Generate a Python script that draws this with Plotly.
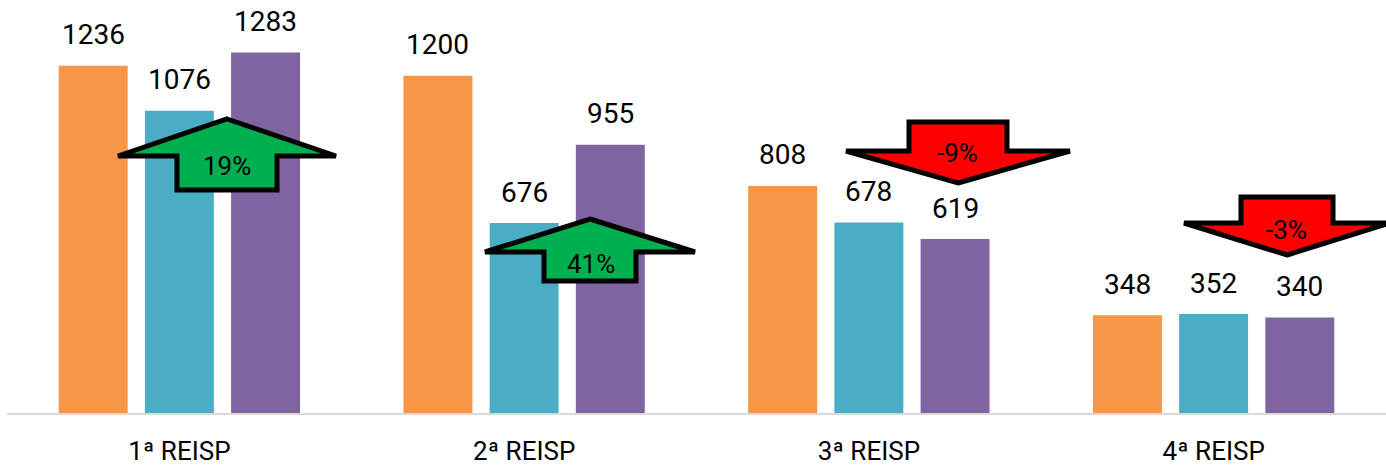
import plotly.graph_objects as go

categories = ["1ª REISP", "2ª REISP", "3ª REISP", "4ª REISP"]
series_a = [1236, 1200, 808, 348]   # orange
series_b = [1076, 676, 678, 352]    # teal
series_c = [1283, 955, 619, 340]    # purple
colors = ["#F79646", "#4BACC6", "#8064A2"]

W, H = 1386, 467
ML, MR, MT, MB = 7, 0, 0, 54
PW, PH = W - ML - MR, H - MT - MB
BARGAP, BARGROUPGAP = 0.25, 0.2
FONT = "Roboto"

fig = go.Figure()
for vals, col in zip([series_a, series_b, series_c], colors):
    fig.add_trace(go.Bar(x=categories, y=vals, marker=dict(color=col, line=dict(width=0)),
                         hoverinfo="x+y", showlegend=False))

# value labels above bars
catw = PW / len(categories)
slot = (1 - BARGAP) * catw / 3
annotations = []
for k, vals in enumerate([series_a, series_b, series_c]):
    for c, v in zip(categories, vals):
        annotations.append(dict(x=c, y=v, xref="x", yref="y", text=str(v), showarrow=False,
                                xshift=(k - 1) * slot, yshift=31, yanchor="middle",
                                font=dict(family=FONT, size=28, color="#000000")))

# change arrows (decorative, pixel placement)
def px(x):
    return (x - ML) / PW

def py(y):
    return (MT + PH - y) / PH

arrows = [
    dict(cx=227, tip=119, base=156, end=190, wing=109, shaft=50, up=True, lab=(227, 166)),
    dict(cx=590, tip=219, base=252, end=281, wing=105, shaft=46, up=True, lab=(591, 264)),
    dict(cx=958, tip=183, base=151, end=122, wing=112, shaft=49, up=False, lab=(957, 153)),
    dict(cx=1287, tip=255, base=223, end=197, wing=103, shaft=46, up=False, lab=(1286, 230)),
]
shapes = []
for i, a in enumerate(arrows):
    cx = a["cx"]
    pts = [(cx, a["tip"]), (cx + a["wing"], a["base"]), (cx + a["shaft"], a["base"]),
           (cx + a["shaft"], a["end"]), (cx - a["shaft"], a["end"]), (cx - a["shaft"], a["base"]),
           (cx - a["wing"], a["base"])]
    path = "M " + " L ".join(f"{px(x):.5f},{py(y):.5f}" for x, y in pts) + " Z"
    fill = "#00B050" if a["up"] else "#FF0000"
    shapes.append(dict(type="path", path=path, xref="paper", yref="paper", fillcolor=fill,
                       line=dict(color="#000000", width=5), layer="above"))
    pct = round((series_c[i] / series_b[i] - 1) * 100)
    lx, ly = a["lab"]
    annotations.append(dict(x=px(lx), y=py(ly), xref="paper", yref="paper", text=f"{pct}%",
                            showarrow=False, xanchor="center", yanchor="middle",
                            font=dict(family=FONT, size=26, color="#000000")))

fig.update_layout(
    width=W, height=H, barmode="group", bargap=BARGAP, bargroupgap=BARGROUPGAP,
    margin=dict(l=ML, r=MR, t=MT, b=MB, pad=0, autoexpand=False),
    paper_bgcolor="white", plot_bgcolor="white",
    xaxis=dict(showline=True, linecolor="#D9D9D9", linewidth=2, showgrid=False,
               ticks="outside", ticklen=14, tickcolor="rgba(0,0,0,0)", automargin=False,
               tickfont=dict(family=FONT, size=26, color="#000000")),
    yaxis=dict(range=[0, 1470], visible=False, showgrid=False, zeroline=False),
    annotations=annotations, shapes=shapes,
    font=dict(family=FONT),
)
fig.write_html("out.html", config={"displayModeBar": False},
               post_script="document.body.style.margin='0';document.body.style.overflow='hidden';")
